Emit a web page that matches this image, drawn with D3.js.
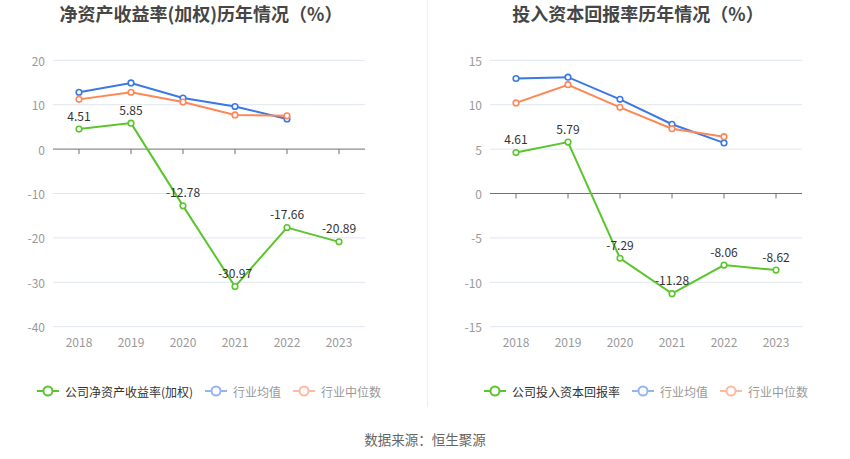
<!DOCTYPE html>
<html>
<head>
<meta charset="utf-8">
<script src="https://cdn.jsdelivr.net/npm/d3@7"></script>
<style>
  body { margin: 0; background: #fff; }
  text { font-family: "Noto Sans CJK SC", "Noto Sans", sans-serif; }
</style>
</head>
<body>
<script>
// Chart data
const years = ["2018", "2019", "2020", "2021", "2022", "2023"];

const roeCompany = [4.51, 5.85, -12.78, -30.97, -17.66, -20.89];
const roeIndustryAvg = [12.8, 14.9, 11.5, 9.6, 6.8];
const roeIndustryMedian = [11.2, 12.8, 10.6, 7.7, 7.5];
const roeTicks = [20, 10, 0, -10, -20, -30, -40];

const roicCompany = [4.61, 5.79, -7.29, -11.28, -8.06, -8.62];
const roicIndustryAvg = [12.95, 13.1, 10.6, 7.8, 5.7];
const roicIndustryMedian = [10.2, 12.25, 9.7, 7.3, 6.4];
const roicTicks = [15, 10, 5, 0, -5, -10, -15];

const width = 850;
const height = 459;

const colors = {
  company: "#5ac52c",
  avg: "#3b78e7",
  median: "#fd8756",
  avgLegend: "#94b5f2",
  medianLegend: "#fcbaa0"
};

const svg = d3.select("body")
  .append("svg")
  .attr("width", width)
  .attr("height", height);

// Divider between the two charts
svg.append("line")
  .attr("x1", 427.5).attr("x2", 427.5)
  .attr("y1", 0).attr("y2", 407)
  .attr("stroke", "#eeeeee")
  .attr("stroke-width", 1);

// Source note
svg.append("text")
  .attr("x", 425)
  .attr("y", 439)
  .attr("text-anchor", "middle")
  .attr("dominant-baseline", "central")
  .style("font-size", "13.5px")
  .style("fill", "#666")
  .text("数据来源：恒生聚源");

function drawChart(opts) {
  const g = svg.append("g");
  const x = d3.scaleBand().domain(years).range([opts.left, opts.right]);
  const y = d3.scaleLinear()
    .domain([opts.ticks[opts.ticks.length - 1], opts.ticks[0]])
    .range([326.7, 60.3]);
  const cx = d => x(d) + x.bandwidth() / 2;
  const mid = (opts.left + opts.right) / 2;

  // Title
  g.append("text")
    .attr("x", mid - 8)
    .attr("y", 13)
    .attr("text-anchor", "middle")
    .attr("dominant-baseline", "central")
    .style("font-size", "18px")
    .style("font-weight", "bold")
    .style("fill", "#464646")
    .text(opts.title);

  // Grid lines
  g.append("g")
    .selectAll("line")
    .data(opts.ticks.filter(t => t !== 0))
    .join("line")
    .attr("x1", opts.left).attr("x2", opts.right)
    .attr("y1", d => y(d)).attr("y2", d => y(d))
    .attr("stroke", "#e0e6f1")
    .attr("stroke-width", 1);

  // Y axis labels
  g.append("g")
    .selectAll("text")
    .data(opts.ticks)
    .join("text")
    .attr("x", opts.left - 8)
    .attr("y", d => y(d))
    .attr("text-anchor", "end")
    .attr("dominant-baseline", "central")
    .style("font-size", "12px")
    .style("fill", "#999")
    .text(d => d);

  // Zero axis line with ticks
  g.append("line")
    .attr("x1", opts.left).attr("x2", opts.right)
    .attr("y1", y(0)).attr("y2", y(0))
    .attr("stroke", "#6e7079")
    .attr("stroke-width", 1);
  g.append("g")
    .selectAll("line")
    .data(years)
    .join("line")
    .attr("x1", d => cx(d)).attr("x2", d => cx(d))
    .attr("y1", y(0)).attr("y2", y(0) + 5)
    .attr("stroke", "#6e7079")
    .attr("stroke-width", 1);

  // X labels
  g.append("g")
    .selectAll("text")
    .data(years)
    .join("text")
    .attr("x", d => cx(d))
    .attr("y", 341)
    .attr("text-anchor", "middle")
    .attr("dominant-baseline", "central")
    .style("font-size", "12px")
    .style("fill", "#999")
    .text(d => d);

  const line = d3.line()
    .x((d, i) => cx(years[i]))
    .y(d => y(d));

  const series = [
    { values: opts.avg, color: colors.avg },
    { values: opts.median, color: colors.median },
    { values: opts.company, color: colors.company, labels: true }
  ];

  series.forEach(s => {
    g.append("path")
      .datum(s.values)
      .attr("d", line)
      .attr("fill", "none")
      .attr("stroke", s.color)
      .attr("stroke-width", 2);
    g.append("g")
      .selectAll("circle")
      .data(s.values)
      .join("circle")
      .attr("cx", (d, i) => cx(years[i]))
      .attr("cy", d => y(d))
      .attr("r", 2.8)
      .attr("fill", "#fff")
      .attr("stroke", s.color)
      .attr("stroke-width", 1.6);
    if (s.labels) {
      g.append("g")
        .selectAll("text")
        .data(s.values)
        .join("text")
        .attr("x", (d, i) => cx(years[i]))
        .attr("y", d => y(d) - 14)
        .attr("text-anchor", "middle")
        .attr("dominant-baseline", "central")
        .style("font-size", "12px")
        .style("fill", "#333")
        .text(d => d.toFixed(2));
    }
  });

  // Legend, centred under the plot
  const items = [
    { name: opts.companyName, color: colors.company, text: "#333" },
    { name: "行业均值", color: colors.avgLegend, text: "#999" },
    { name: "行业中位数", color: colors.medianLegend, text: "#999" }
  ];
  const lg = g.append("g");
  let pos = 0;
  items.forEach(it => {
    const ig = lg.append("g").attr("transform", `translate(${pos},0)`);
    ig.append("line")
      .attr("x1", 0).attr("x2", 22)
      .attr("y1", 0).attr("y2", 0)
      .attr("stroke", it.color)
      .attr("stroke-width", 2);
    ig.append("circle")
      .attr("cx", 11).attr("cy", 0).attr("r", 4.5)
      .attr("fill", "#fff")
      .attr("stroke", it.color)
      .attr("stroke-width", 2);
    const t = ig.append("text")
      .attr("x", 28)
      .attr("y", 0)
      .attr("dominant-baseline", "central")
      .style("font-size", "12px")
      .style("fill", it.text)
      .text(it.name);
    pos += 28 + t.node().getComputedTextLength() + 12;
  });
  const total = pos - 12;
  lg.attr("transform", `translate(${mid - total / 2},391)`);
}

drawChart({
  title: "净资产收益率(加权)历年情况（%）",
  companyName: "公司净资产收益率(加权)",
  left: 53, right: 365,
  ticks: roeTicks,
  company: roeCompany,
  avg: roeIndustryAvg,
  median: roeIndustryMedian
});

drawChart({
  title: "投入资本回报率历年情况（%）",
  companyName: "公司投入资本回报率",
  left: 490, right: 802,
  ticks: roicTicks,
  company: roicCompany,
  avg: roicIndustryAvg,
  median: roicIndustryMedian
});
</script>
</body>
</html>
